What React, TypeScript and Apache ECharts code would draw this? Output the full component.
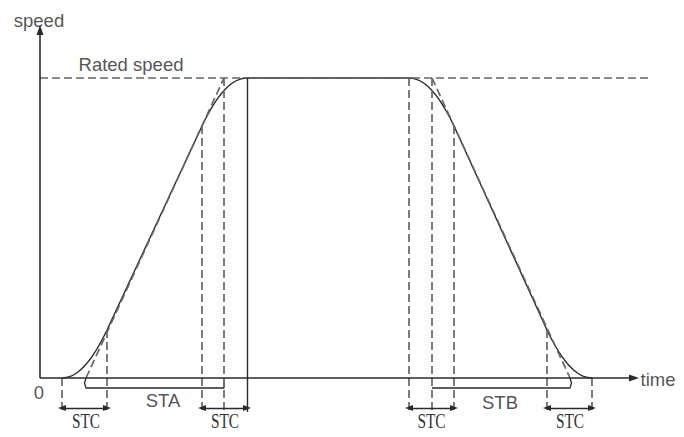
import React, { useEffect, useRef } from "react";
import * as echarts from "echarts";

// Speed profile (time, speed)
const curvePoints: number[][] = [
  [22, 0], [29.5, 1.3], [37, 5.3], [44.5, 12], [52, 21.4], [59.5, 33.5], [67, 48],
  [162, 252], [169.5, 266.5], [177, 278.6], [184.5, 288], [192, 294.7], [199.5, 298.7], [207, 300],
  [369, 300], [376.5, 298.7], [384, 294.7], [391.5, 288], [399, 278.6], [406.5, 266.5], [414, 252],
  [507, 48], [514.5, 33.5], [522, 21.4], [529.5, 12], [537, 5.3], [544.5, 1.3], [552, 0],
];
const ratedSpeed = 300;
const ratedLineEnd = 611;
const axisTimeEnd = 594;
const axisSpeedEnd = 348;
const guideBottom = -34;
// dashed vertical guides: [time, speed at top]
const dashedVerticals: number[][] = [
  [22, 0], [67, 48], [162, 252], [184, 300], [369, 300], [392, 300], [414, 252], [507, 48], [552, 0],
];
const solidVerticals: number[][] = [[207, 300]];
// dashed tangent (linear extension) lines
const tangents: number[][][] = [
  [[46, 0], [184, 300]],
  [[392, 300], [530, 0]],
];
// STC spans (double arrows)
const stcSpans: number[][] = [[22, 67], [162, 207], [369, 414], [507, 552]];
const stcLevel = -30;
// STA / STB brackets
const staBracket: number[][] = [[46, 0], [44.5, -5], [46, -10], [184, -10], [184, -5]];
const stbBracket: number[][] = [[392, -10], [530, -10], [531.5, -5], [530, 0]];
// texts
const sansLabels = [
  { name: "speed", value: [-1, 358] },
  { name: "Rated speed", value: [91, 314] },
  { name: "0", value: [-1, -14] },
  { name: "time", value: [618, -1] },
  { name: "STA", value: [123, -22] },
  { name: "STB", value: [460, -24] },
];
const stcLabelText = "STC";
const stcLabelPos: number[][] = [[46, -42.5], [185, -42.5], [391.5, -42.5], [530, -42.5]];

const INK = "#2a2a2a";
const DASH = "#666666";

export default function App() {
  const ref = useRef<HTMLDivElement>(null);
  useEffect(() => {
    if (!ref.current) return;
    const chart = echarts.init(ref.current, null, { renderer: "svg" });
    const dashedData: any[] = [];
    dashedData.push([{ coord: [0, ratedSpeed] }, { coord: [ratedLineEnd, ratedSpeed] }]);
    dashedVerticals.forEach(([x, y]) => dashedData.push([{ coord: [x, y] }, { coord: [x, guideBottom] }]));
    tangents.forEach(([a, b]) => dashedData.push([{ coord: a }, { coord: b }]));
    const solidData: any[] = solidVerticals.map(([x, y]) => [{ coord: [x, y] }, { coord: [x, guideBottom] }]);
    const stcData: any[] = stcSpans.map(([a, b]) => [{ coord: [a, stcLevel] }, { coord: [b, stcLevel] }]);

    const option: any = {
      animation: false,
      grid: { left: 40, top: 30, width: 620, height: 403 },
      xAxis: { type: "value", min: 0, max: 620, show: false },
      yAxis: { type: "value", min: -55, max: 348, show: false },
      series: [
        {
          type: "line", data: [], silent: true,
          markLine: {
            silent: true, symbol: "none", label: { show: false },
            lineStyle: { type: [8, 4], color: DASH, width: 1.7 },
            emphasis: { disabled: true },
            data: dashedData,
          },
        },
        {
          type: "line", data: [], silent: true,
          markLine: {
            silent: true, symbol: "none", label: { show: false },
            lineStyle: { type: "solid", color: INK, width: 1.4 },
            emphasis: { disabled: true },
            data: solidData,
          },
        },
        {
          type: "line", data: [], silent: true,
          markLine: {
            silent: true, symbol: ["none", "triangle"], symbolSize: [7, 10], label: { show: false },
            lineStyle: { type: "solid", color: INK, width: 1.6 },
            emphasis: { disabled: true },
            data: [
              [{ coord: [0, 0] }, { coord: [axisTimeEnd, 0] }],
              [{ coord: [0, 0] }, { coord: [0, axisSpeedEnd] }],
            ],
          },
        },
        {
          type: "line", data: [], silent: true,
          markLine: {
            silent: true, symbol: ["triangle", "triangle"], symbolSize: [6, 8], label: { show: false },
            lineStyle: { type: "solid", color: INK, width: 1.4 },
            emphasis: { disabled: true },
            data: stcData,
          },
        },
        {
          type: "line", data: curvePoints, smooth: 0.3, showSymbol: false, silent: true,
          lineStyle: { color: INK, width: 1.4 },
        },
        {
          type: "line", data: staBracket, showSymbol: false, silent: true, clip: false,
          lineStyle: { color: INK, width: 1.3 },
        },
        {
          type: "line", data: stbBracket, showSymbol: false, silent: true, clip: false,
          lineStyle: { color: INK, width: 1.3 },
        },
        {
          type: "scatter", data: sansLabels, symbolSize: 0, clip: false, silent: true,
          label: {
            show: true, position: "inside", formatter: "{b}", color: "#262626",
            fontFamily: "Liberation Sans", fontSize: 18.5,
          },
        },
      ],
    };
    chart.setOption(option);
    // condensed serif STC labels, placed through the chart's own coordinate conversion
    const graphics = stcLabelPos.map((p) => {
      const px = chart.convertToPixel({ gridIndex: 0 }, p) as number[];
      return {
        type: "text",
        x: px[0], y: px[1], scaleX: 0.7, scaleY: 1, silent: true,
        style: {
          text: stcLabelText, fill: "#333", font: '22px "Liberation Serif"',
          align: "center", verticalAlign: "middle",
        },
      };
    });
    chart.setOption({ graphic: graphics });
    return () => chart.dispose();
  }, []);
  return <div ref={ref} style={{ width: 684, height: 437, margin: -8, background: "#fff" }} />;
}
